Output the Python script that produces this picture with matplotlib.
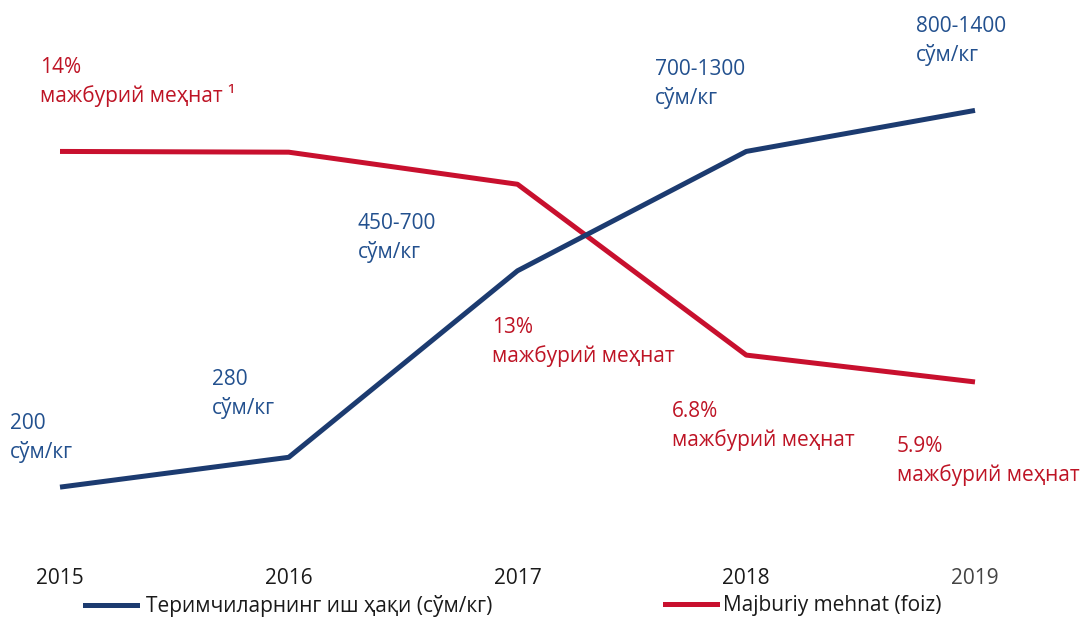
import matplotlib.pyplot as plt
from matplotlib.lines import Line2D

plt.rcParams['font.family'] = ['Open Sans', 'DejaVu Sans']

# данные (графикда y-шкала йўқ, шунинг учун чизиқ баландлиги нисбий даража)
years = [2015, 2016, 2017, 2018, 2019]
wage_level = [0, 8, 58, 90, 101]
forced_level = [90, 89.8, 81.2, 35.4, 28.2]
wage_top = ['200', '280', '450-700', '700-1300', '800-1400']
wage_unit = 'сўм/кг'
forced_top = ['14%', None, '13%', '6.8%', '5.9%']
forced_bottom = ['мажбурий меҳнат ¹', None, 'мажбурий меҳнат', 'мажбурий меҳнат', 'мажбурий меҳнат']
legend_labels = ['Теримчиларнинг иш ҳақи (сўм/кг)', 'Majburiy mehnat (foiz)']

blue = '#1c3b70'
red = '#c8102e'
blue_txt = '#22508e'
red_txt = '#be1425'
fs = 15

W, H = 1084, 620
fig = plt.figure(figsize=(W / 100, H / 100), dpi=100)
ax = fig.add_axes([0, 62 / H, 1, 1 - 62 / H])

ax.plot(years, forced_level, color=red, lw=3.6, solid_capstyle='butt')
ax.plot(years, wage_level, color=blue, lw=3.6, solid_capstyle='butt')

ax.set_xlim(2015 - 60 / 228.75, 2019 + 109 / 228.75)
ax.set_ylim(-19.0, 130.6)
ax.set_yticks([])
ax.set_xticks(years)
ax.set_xticklabels([str(y) for y in years], fontsize=fs)
for lab in ax.get_xticklabels()[:4]:
    lab.set_color('#1a1a1a')
ax.get_xticklabels()[4].set_color('#444444')
ax.tick_params(axis='x', length=0, pad=7)
for s in ax.spines.values():
    s.set_visible(False)

# подписи: x слева и базовая линия первой строки, в пикселях
wage_pos = [(10, 429), (212, 385), (358, 229), (655, 75), (916, 32)]
forced_pos = [(40, 73), None, (492, 333), (672, 417), (897, 452)]
gap = 29


def put(pos, l1, l2, col):
    x, y = pos
    fig.text(x / W, 1 - y / H, l1, color=col, fontsize=fs, ha='left', va='baseline')
    fig.text(x / W, 1 - (y + gap) / H, l2, color=col, fontsize=fs, ha='left', va='baseline')


for p, t in zip(wage_pos, wage_top):
    put(p, t, wage_unit, blue_txt)
for p, t, b in zip(forced_pos, forced_top, forced_bottom):
    if t is not None:
        put(p, t, b, red_txt)

# легенда: два отдельных блока
for x0, col, lab, pad in [(85, blue, legend_labels[0], 0.45), (665, red, legend_labels[1], 0.3)]:
    lg = fig.legend([Line2D([], [], color=col, lw=3.6)], [lab], loc='center left',
                    bbox_to_anchor=(x0 / W, 1 - 606 / H), frameon=False, fontsize=fs,
                    handlelength=2.5, handletextpad=pad, borderpad=0, borderaxespad=0)
    lg.get_texts()[0].set_color('#1a1a1a')

fig.savefig('out.png', dpi=100)
